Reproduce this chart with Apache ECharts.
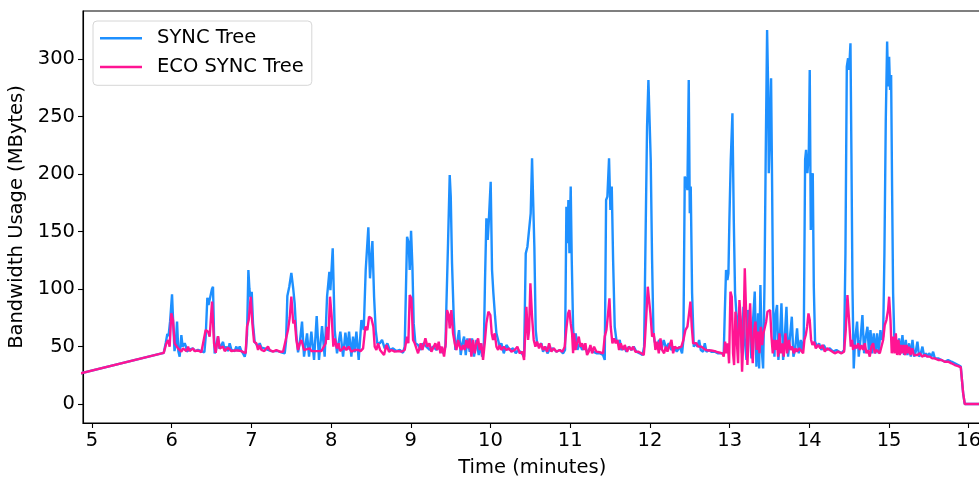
<!DOCTYPE html>
<html>
<head>
<meta charset="utf-8">
<script src="https://cdn.jsdelivr.net/npm/echarts@6/dist/echarts.min.js"></script>
<style>
html,body{margin:0;padding:0;background:#fff;overflow:hidden;}
#main{width:990px;height:480px;}
</style>
</head>
<body>
<div id="main"></div>
<script>
const seriesNames = ['SYNC Tree', 'ECO SYNC Tree'];
const xTicks = [5,6,7,8,9,10,11,12,13,14,15,16];
const yTicks = [0,50,100,150,200,250,300];

const syncTree = [[4.80,25.7],[5.90,44.5],[5.925,53],[5.945,61],[5.96,59],[5.98,72],[6.004,95.4],[6.018,72],[6.035,46],[6.05,52],[6.067,71.6],[6.083,46],[6.10,41.2],[6.121,60],[6.137,50],[6.150,49.9],[6.163,52.8],[6.178,50],[6.19,45.5],[6.205,46],[6.225,47.5],[6.246,48.4],[6.267,48.4],[6.29,46],[6.309,45.5],[6.33,47],[6.351,45.5],[6.372,46],[6.393,44.6],[6.41,45],[6.426,58],[6.447,92.4],[6.462,86],[6.476,86],[6.505,100],[6.518,102],[6.531,60],[6.539,44],[6.555,47],[6.57,55],[6.581,58.6],[6.60,48],[6.625,47],[6.644,54],[6.665,47],[6.686,50],[6.705,46],[6.727,52.8],[6.75,47],[6.769,48],[6.79,46],[6.811,50],[6.83,46],[6.853,50],[6.875,46],[6.895,44],[6.916,41.2],[6.928,45],[6.945,60],[6.962,116.5],[6.975,100],[6.987,93],[7.004,97.6],[7.02,70],[7.041,54],[7.062,52.8],[7.083,50],[7.104,52.8],[7.125,49],[7.146,50],[7.166,48.4],[7.179,47.5],[7.208,47],[7.229,48.4],[7.25,46],[7.271,47],[7.292,46],[7.313,47],[7.335,46],[7.355,46.5],[7.376,45],[7.397,44.6],[7.418,44.1],[7.435,55],[7.451,94],[7.475,102],[7.501,114],[7.525,100],[7.543,87],[7.564,60],[7.585,45],[7.606,52.8],[7.635,71.6],[7.660,41.2],[7.698,61.4],[7.723,41.2],[7.752,62.9],[7.786,38.3],[7.819,76.5],[7.848,38.3],[7.886,67.8],[7.919,41.2],[7.949,93.3],[7.978,115],[7.991,99],[8.020,135.4],[8.045,64.3],[8.074,44.1],[8.116,62.9],[8.150,41.2],[8.179,62],[8.204,47],[8.225,62.9],[8.254,41.2],[8.275,58.6],[8.296,45],[8.317,62.9],[8.346,38.3],[8.380,73],[8.409,64.3],[8.434,116.5],[8.467,153.6],[8.488,109.3],[8.518,141.7],[8.539,93.3],[8.559,64.3],[8.580,52.8],[8.610,52.8],[8.639,55.7],[8.672,48.4],[8.706,52.8],[8.735,47],[8.777,48.4],[8.819,46],[8.861,47],[8.902,44.6],[8.923,49.9],[8.953,145.5],[8.974,139.7],[8.986,116.5],[9.003,150.7],[9.020,119.4],[9.036,70.1],[9.057,52.8],[9.091,51.3],[9.124,47],[9.153,52.8],[9.195,49.9],[9.237,47],[9.279,49.9],[9.321,47],[9.362,49.9],[9.404,44.1],[9.434,49.9],[9.446,84.6],[9.467,140],[9.488,199.1],[9.501,180.3],[9.517,122.3],[9.538,75.9],[9.559,47],[9.580,52.8],[9.605,64.3],[9.626,42.6],[9.647,52.8],[9.668,58.6],[9.689,42.6],[9.710,57.1],[9.739,45.5],[9.768,57.1],[9.793,41.2],[9.823,55.7],[9.852,42.6],[9.873,52.8],[9.894,41.2],[9.915,47],[9.931,108],[9.948,161.4],[9.965,142.6],[9.977,157.1],[10.002,193.3],[10.019,116.5],[10.036,96.2],[10.057,75.9],[10.074,61.4],[10.095,55.7],[10.115,49.9],[10.136,52.8],[10.166,44.1],[10.199,51.3],[10.241,47],[10.283,48.4],[10.316,44.1],[10.346,47],[10.387,44.6],[10.421,41.2],[10.442,131],[10.463,136.8],[10.484,138.3],[10.504,165.8],[10.521,213.6],[10.534,212.2],[10.550,136.8],[10.567,64.3],[10.584,52.8],[10.609,49.9],[10.638,52.8],[10.659,45.5],[10.689,49.9],[10.714,44.1],[10.743,47.6],[10.785,48.4],[10.827,45.5],[10.868,47],[10.910,44.1],[10.935,47],[10.952,171.6],[10.964,139.7],[10.977,177.4],[10.990,131],[11.006,189],[11.019,125.2],[11.036,67.2],[11.048,49.9],[11.069,61.4],[11.090,47],[11.119,52.8],[11.149,47],[11.182,51.3],[11.215,44.1],[11.245,48.4],[11.287,45.5],[11.328,44.1],[11.370,44.1],[11.412,42.6],[11.433,38.3],[11.450,177.4],[11.466,180.3],[11.487,213.6],[11.504,168.7],[11.521,189],[11.538,125.2],[11.558,67.2],[11.579,55.7],[11.600,52.8],[11.621,55.7],[11.642,47],[11.676,49.9],[11.705,45.5],[11.734,49.9],[11.768,47],[11.797,49.9],[11.830,45.5],[11.872,44.1],[11.906,42.6],[11.927,49.9],[11.947,154.2],[11.964,241.2],[11.981,281.7],[11.998,280.3],[12.010,212.2],[12.027,125.2],[12.044,61.4],[12.060,54.2],[12.090,49.9],[12.115,55.7],[12.144,47],[12.173,55.7],[12.203,48.4],[12.236,52.8],[12.270,47],[12.303,49.9],[12.337,45.5],[12.374,49.9],[12.403,44.1],[12.420,55.7],[12.437,197.7],[12.454,194.8],[12.470,186],[12.487,281.7],[12.500,165.8],[12.512,189],[12.529,96.2],[12.550,49.9],[12.575,52.8],[12.596,49.9],[12.617,55.7],[12.638,47],[12.667,45.5],[12.688,52.8],[12.709,45.5],[12.742,47],[12.771,45.5],[12.813,45.5],[12.855,44.1],[12.897,44.1],[12.926,44.1],[12.939,78.8],[12.955,116.5],[12.972,107.8],[12.985,113.6],[12.997,160],[13.014,212.2],[13.035,252.8],[13.052,160],[13.068,96.2],[13.085,78.8],[13.106,58.6],[13.123,84.6],[13.140,61.4],[13.156,44.1],[13.173,84.6],[13.190,55.7],[13.211,38.3],[13.232,81.7],[13.252,73],[13.273,39.7],[13.294,73],[13.315,97.7],[13.336,32.5],[13.357,78.8],[13.370,31],[13.386,103.5],[13.403,47],[13.420,31],[13.437,102],[13.453,218],[13.470,325.2],[13.483,276],[13.491,200.6],[13.508,247],[13.520,283.2],[13.533,189],[13.545,87.5],[13.562,41.2],[13.579,78.8],[13.595,86.1],[13.612,38.3],[13.629,55.7],[13.650,87.5],[13.671,38.3],[13.692,58.6],[13.713,84.6],[13.733,41.2],[13.754,55.7],[13.780,75.9],[13.800,41.2],[13.821,47],[13.846,65.8],[13.867,44.1],[13.892,55.7],[13.909,47],[13.930,55.7],[13.947,212.2],[13.959,220.9],[13.976,200.6],[13.993,218],[14.005,290.4],[14.018,151.3],[14.030,197.7],[14.043,200.6],[14.056,102],[14.072,54.2],[14.097,49.9],[14.122,52.8],[14.152,47],[14.181,51.3],[14.215,47],[14.256,48.4],[14.298,45.5],[14.340,47],[14.361,47],[14.403,44.1],[14.436,47],[14.453,131],[14.470,293.3],[14.486,300.6],[14.499,290.4],[14.516,313.6],[14.528,218],[14.541,102],[14.557,31],[14.574,55.7],[14.599,71.6],[14.620,41.2],[14.641,55.7],[14.666,77.4],[14.687,44.1],[14.708,58.6],[14.729,67.2],[14.746,47],[14.767,64.3],[14.788,44.1],[14.808,61.4],[14.829,44.1],[14.850,61.4],[14.871,44.1],[14.892,64.3],[14.909,55.7],[14.926,58.6],[14.942,131],[14.959,247],[14.976,315.1],[14.988,276],[15.001,302],[15.013,273],[15.026,286],[15.038,189],[15.051,96.2],[15.068,52.8],[15.089,55.7],[15.105,44.1],[15.126,57.1],[15.147,44.1],[15.168,60],[15.189,42.6],[15.210,55.7],[15.231,42.6],[15.252,52.8],[15.273,41.2],[15.294,55.7],[15.315,41.2],[15.335,45.5],[15.356,54.2],[15.377,41.2],[15.398,44.1],[15.419,49.9],[15.440,41.2],[15.461,44.1],[15.482,41.2],[15.503,44.1],[15.532,41.2],[15.553,45.5],[15.574,39.7],[15.616,39.7],[15.658,38.3],[15.699,36.8],[15.741,38.3],[15.783,36.8],[15.825,35.4],[15.867,33.9],[15.900,32.5],[15.930,9.3],[15.950,0],[16.3,0]];

const ecoSyncTree = [[4.80,25.7],[5.90,44.5],[5.933,52.8],[5.954,55.7],[5.974,49.9],[5.995,78.8],[6.016,73],[6.037,52.8],[6.058,51.3],[6.079,48.4],[6.100,49.9],[6.121,45.5],[6.142,48.4],[6.163,47],[6.184,46],[6.205,49.9],[6.225,46],[6.246,45.5],[6.267,48.4],[6.288,46],[6.309,45.5],[6.330,46.5],[6.351,45.5],[6.372,45],[6.393,44.1],[6.426,64.3],[6.456,62.9],[6.476,58.6],[6.506,89],[6.531,52.8],[6.552,44.6],[6.581,59],[6.602,48.4],[6.623,47],[6.644,49.9],[6.665,46],[6.686,47],[6.706,49],[6.727,49.9],[6.748,46],[6.769,47],[6.790,46.5],[6.811,45.5],[6.832,46.5],[6.853,47],[6.874,46],[6.895,45.5],[6.928,44.1],[6.945,67.2],[6.966,73],[6.991,93.3],[7.012,70.1],[7.033,54.2],[7.062,52.8],[7.083,47],[7.104,51.3],[7.125,47],[7.146,48.4],[7.162,46],[7.179,44.6],[7.208,49.9],[7.229,47],[7.250,46.5],[7.271,45.5],[7.292,46.5],[7.313,47],[7.334,46],[7.355,45.5],[7.376,46],[7.397,45.5],[7.418,44.5],[7.459,64.3],[7.480,75],[7.501,93.3],[7.525,70],[7.543,73],[7.564,55.7],[7.585,47],[7.606,52.8],[7.627,55.7],[7.660,47],[7.689,47.5],[7.710,46],[7.731,48.4],[7.752,46],[7.773,47],[7.794,46],[7.815,47],[7.836,46],[7.857,45.5],[7.878,46],[7.899,47],[7.932,52.8],[7.949,67.2],[7.965,55.7],[7.986,93.3],[8.007,75.9],[8.028,49.9],[8.045,57],[8.074,48.4],[8.095,52.8],[8.112,46],[8.129,45.5],[8.145,48],[8.162,49.9],[8.191,47],[8.221,49.9],[8.254,45.5],[8.275,47],[8.296,47],[8.317,46],[8.338,47],[8.370,46],[8.401,48.4],[8.430,67.2],[8.455,64.3],[8.476,75.9],[8.505,74.5],[8.530,67.2],[8.547,49.9],[8.568,47],[8.589,52.8],[8.614,47],[8.639,48.4],[8.664,42.6],[8.693,51.3],[8.727,45.5],[8.756,47],[8.777,46],[8.798,45.5],[8.819,46.5],[8.840,46],[8.861,46.5],[8.882,45.5],[8.902,46.5],[8.923,47],[8.953,58.6],[8.969,52.8],[8.986,94.8],[9.007,91.9],[9.028,55.7],[9.049,52.8],[9.070,48.4],[9.091,44.1],[9.124,52.8],[9.145,47],[9.183,57.1],[9.208,49.9],[9.233,52.8],[9.258,45.5],[9.279,45.5],[9.308,52.8],[9.329,47],[9.350,54.2],[9.371,44.1],[9.392,49.9],[9.417,41.2],[9.438,52.8],[9.454,81.7],[9.475,77.4],[9.488,65.8],[9.509,81.7],[9.530,61.4],[9.551,52.8],[9.572,47],[9.593,55.7],[9.614,49.9],[9.635,47],[9.655,51.3],[9.676,47],[9.697,55.7],[9.718,48.4],[9.739,57.1],[9.760,41.2],[9.781,55.7],[9.802,44.1],[9.823,52.8],[9.844,57.1],[9.864,47],[9.885,52.8],[9.906,38.3],[9.927,52.8],[9.948,70.1],[9.973,80.3],[9.998,77.4],[10.015,61.4],[10.032,55.7],[10.053,61.4],[10.074,49.9],[10.095,47],[10.115,51.3],[10.136,47],[10.166,49.9],[10.199,47],[10.232,48.4],[10.262,45.5],[10.283,47],[10.304,47],[10.337,49.9],[10.366,44.1],[10.400,45.5],[10.421,38.3],[10.450,84.6],[10.471,55.7],[10.484,64.3],[10.500,104.9],[10.521,75.9],[10.542,55.7],[10.563,49.9],[10.584,54.2],[10.609,48.4],[10.630,52.8],[10.659,47],[10.680,49.9],[10.710,45.5],[10.735,52.8],[10.764,45.5],[10.793,48.4],[10.827,45.5],[10.848,46.5],[10.868,47],[10.902,45.5],[10.931,49.9],[10.952,65.8],[10.973,78.8],[10.990,81.7],[11.006,70.1],[11.023,61.4],[11.036,44.1],[11.048,61.4],[11.065,47],[11.086,48.4],[11.107,58.6],[11.128,49.9],[11.149,52.8],[11.170,47],[11.190,52.8],[11.211,42.6],[11.232,45.5],[11.253,51.3],[11.274,44.1],[11.299,49.9],[11.328,45.5],[11.349,46],[11.370,45],[11.391,45],[11.412,44.1],[11.433,58.6],[11.454,64.3],[11.475,78.8],[11.492,91.9],[11.508,67.2],[11.529,52.8],[11.550,57.1],[11.571,52.8],[11.592,55.7],[11.613,47],[11.634,52.8],[11.663,47],[11.684,51.3],[11.713,45.5],[11.738,49.9],[11.768,47],[11.789,49.9],[11.818,45.5],[11.851,45.5],[11.872,45],[11.893,44.1],[11.922,42.6],[11.935,52.8],[11.956,78.8],[11.973,102],[11.989,90.4],[12.006,78.8],[12.027,58.6],[12.048,61.4],[12.069,47],[12.090,54.2],[12.111,44.1],[12.132,57.1],[12.153,47],[12.178,44.1],[12.199,49.9],[12.220,45.5],[12.249,51.3],[12.270,55.7],[12.291,44.1],[12.312,49.9],[12.341,48.4],[12.366,47],[12.395,49.9],[12.420,55.7],[12.445,64.3],[12.470,67.2],[12.491,78.8],[12.508,89],[12.525,67.2],[12.542,52.8],[12.563,51.3],[12.584,52.8],[12.605,49.9],[12.626,51.3],[12.646,49.9],[12.667,49.9],[12.688,47.5],[12.709,47],[12.730,46.5],[12.750,45.5],[12.771,46.5],[12.792,47],[12.813,46],[12.834,45.5],[12.855,45],[12.876,44.1],[12.909,44.1],[12.926,41.2],[12.943,54.2],[12.960,44.1],[12.976,52.8],[12.993,35.4],[13.010,97.7],[13.027,93.3],[13.043,44.1],[13.056,33.9],[13.073,80.3],[13.089,55.7],[13.106,35.4],[13.123,90.4],[13.140,73],[13.156,28.1],[13.173,58.6],[13.190,118],[13.207,78.8],[13.223,33.9],[13.240,61.4],[13.257,87.5],[13.273,55.7],[13.290,35.4],[13.307,64.3],[13.324,71.6],[13.340,47],[13.357,62.9],[13.374,44.1],[13.391,67.2],[13.408,51.3],[13.424,61.4],[13.441,61.4],[13.458,71.6],[13.475,80.3],[13.491,78.8],[13.508,81.7],[13.525,58.6],[13.541,44.1],[13.558,55.7],[13.575,47],[13.592,55.7],[13.608,41.2],[13.625,61.4],[13.642,44.1],[13.658,52.8],[13.679,41.2],[13.700,61.4],[13.721,44.1],[13.742,55.7],[13.763,47],[13.784,49.9],[13.805,44.1],[13.826,48.4],[13.846,45.5],[13.871,48.4],[13.896,47],[13.922,44.1],[13.938,55.7],[13.955,60],[13.972,67.2],[13.989,78.8],[14.005,73],[14.022,55.7],[14.039,51.3],[14.060,54.2],[14.081,48.4],[14.110,51.3],[14.139,48.4],[14.164,51.3],[14.194,45.5],[14.223,48.4],[14.256,47],[14.290,45.5],[14.319,44.1],[14.361,45.5],[14.403,44.1],[14.436,45.5],[14.457,64.3],[14.478,94.8],[14.499,93.3],[14.520,49.9],[14.536,55.7],[14.549,47],[14.570,51.3],[14.591,48.4],[14.612,52.8],[14.633,47],[14.654,51.3],[14.675,47],[14.696,52.8],[14.716,44.1],[14.737,47],[14.758,41.2],[14.779,49.9],[14.800,52.8],[14.821,44.1],[14.842,47],[14.863,45.5],[14.884,44.1],[14.905,42.6],[14.926,55.7],[14.946,68.7],[14.967,73],[14.988,81.7],[15.001,93.3],[15.018,73],[15.034,44.1],[15.051,58.6],[15.068,44.1],[15.085,61.4],[15.101,42.6],[15.118,55.7],[15.135,42.6],[15.151,51.3],[15.168,44.1],[15.185,51.3],[15.202,42.6],[15.219,51.3],[15.235,44.1],[15.252,49.9],[15.269,42.6],[15.290,48.4],[15.311,42.6],[15.331,44.1],[15.356,42.6],[15.386,44.1],[15.415,41.2],[15.448,42.6],[15.482,41.2],[15.511,41.2],[15.541,39.7],[15.574,39.7],[15.616,38.3],[15.658,38.3],[15.699,36.8],[15.741,36.8],[15.783,35.4],[15.825,33.9],[15.867,33],[15.900,31.9],[15.930,9.3],[15.950,0],[16.3,0]];

const chart = echarts.init(document.getElementById('main'), null, {renderer: 'canvas'});
const FONT = 'DejaVu Sans';
const FS = 19.5;
const option = {
  animation: false,
  backgroundColor: '#ffffff',
  textStyle: {fontFamily: FONT},
  grid: {left: 83, top: 11, right: 8.5, bottom: 57, show: true, borderColor: '#000', borderWidth: 1.1,
         backgroundColor: 'transparent', containLabel: false, outerBoundsMode: 'none'},
  legend: {
    orient: 'vertical', left: 93, top: 21,
    data: seriesNames,
    icon: 'rect', itemWidth: 42, itemHeight: 2.5, itemGap: 6.3,
    padding: [6, 8, 7, 7],
    backgroundColor: 'rgba(255,255,255,0.8)', borderColor: '#d6d6d6', borderWidth: 1, borderRadius: 4,
    textStyle: {fontFamily: FONT, fontSize: FS, color: '#000', lineHeight: 22.5, padding: [0, 0, 0, 10]}
  },
  xAxis: {
    type: 'value', min: 4.887, max: 16.16,
    name: 'Time (minutes)', nameLocation: 'middle', nameGap: 35,
    nameTextStyle: {fontFamily: FONT, fontSize: FS, color: '#000'},
    axisLine: {show: true, onZero: false, lineStyle: {color: '#000', width: 1.1}},
    axisTick: {show: true, length: 5, lineStyle: {color: '#000', width: 1.1}, customValues: xTicks},
    axisLabel: {fontFamily: FONT, fontSize: FS, color: '#000', margin: 8, customValues: xTicks, showMinLabel: true, showMaxLabel: true},
    splitLine: {show: false}
  },
  yAxis: {
    type: 'value', min: -16.5, max: 341.7,
    name: 'Bandwidth Usage (MBytes)', nameLocation: 'middle', nameGap: 49, nameRotate: 90,
    nameTextStyle: {fontFamily: FONT, fontSize: FS, color: '#000'},
    axisLine: {show: true, onZero: false, lineStyle: {color: '#000', width: 1.1}},
    axisTick: {show: true, length: 5, lineStyle: {color: '#000', width: 1.1}, customValues: yTicks},
    axisLabel: {fontFamily: FONT, fontSize: FS, color: '#000', margin: 8, customValues: yTicks},
    splitLine: {show: false}
  },
  series: [
    {name: seriesNames[0], type: 'line', data: syncTree, showSymbol: false, symbol: 'none', clip: true,
     color: '#1E90FF', lineStyle: {color: '#1E90FF', width: 2.4}, z: 2},
    {name: seriesNames[1], type: 'line', data: ecoSyncTree, showSymbol: false, symbol: 'none', clip: true,
     color: '#FF1493', lineStyle: {color: '#FF1493', width: 2.4}, z: 3}
  ]
};
chart.setOption(option);
</script>
</body>
</html>
